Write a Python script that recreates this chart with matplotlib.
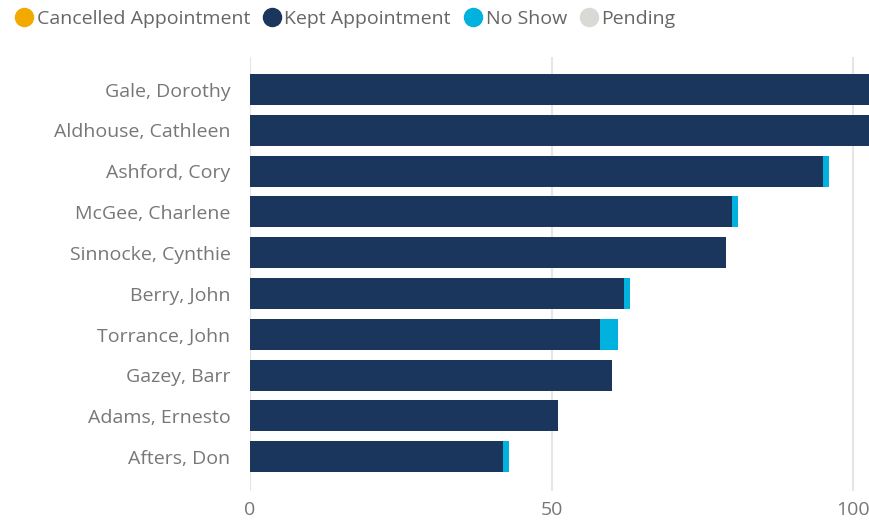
import matplotlib.pyplot as plt
from matplotlib.lines import Line2D

plt.rcParams['font.family'] = ['Open Sans', 'DejaVu Sans']

names = ['Gale, Dorothy', 'Aldhouse, Cathleen', 'Ashford, Cory', 'McGee, Charlene',
         'Sinnocke, Cynthie', 'Berry, John', 'Torrance, John', 'Gazey, Barr',
         'Adams, Ernesto', 'Afters, Don']
cancelled = [0, 0, 0, 0, 0, 0, 0, 0, 0, 0]
kept = [110, 108, 95, 80, 79, 62, 58, 60, 51, 42]
no_show = [0, 0, 1, 1, 0, 1, 3, 0, 0, 1]
pending = [0, 0, 0, 0, 0, 0, 0, 0, 0, 0]

series = ['Cancelled Appointment', 'Kept Appointment', 'No Show', 'Pending']
colors = ['#F2A900', '#1A365D', '#00B2DD', '#D9D9D6']
txt = '#777777'

fig = plt.figure(figsize=(8.69, 5.22), dpi=100)
ax = fig.add_axes([0.2877, 0.0594, 0.7123, 0.8314])

y = list(range(len(names)))
left = [0] * len(names)
for vals, c in zip([cancelled, kept, no_show, pending], colors):
    ax.barh(y, vals, left=left, height=0.76, color=c, zorder=3)
    left = [l + v for l, v in zip(left, vals)]

ax.set_xlim(0, 102.65)
ax.set_ylim(9.84, -0.8)
ax.set_yticks(y)
ax.set_yticklabels(names)
ax.set_xticks([0, 50, 100])
ax.grid(axis='x', color='#e6e6e6', linewidth=1.5, zorder=0)
ax.tick_params(axis='y', length=0, pad=14, labelsize=14, labelcolor=txt)
ax.tick_params(axis='x', length=0, pad=7, labelsize=14, labelcolor=txt)
for s in ax.spines.values():
    s.set_visible(False)

handles = [Line2D([], [], marker='o', linestyle='', markersize=13, color=c) for c in colors]
fig.legend(handles, series, loc='upper left', bbox_to_anchor=(-0.009, 1.015), ncol=4,
           frameon=False, handletextpad=-0.12, columnspacing=0.4, handlelength=1.5,
           prop={'size': 14}, labelcolor='#666666')

fig.savefig('out.png', dpi=100)
